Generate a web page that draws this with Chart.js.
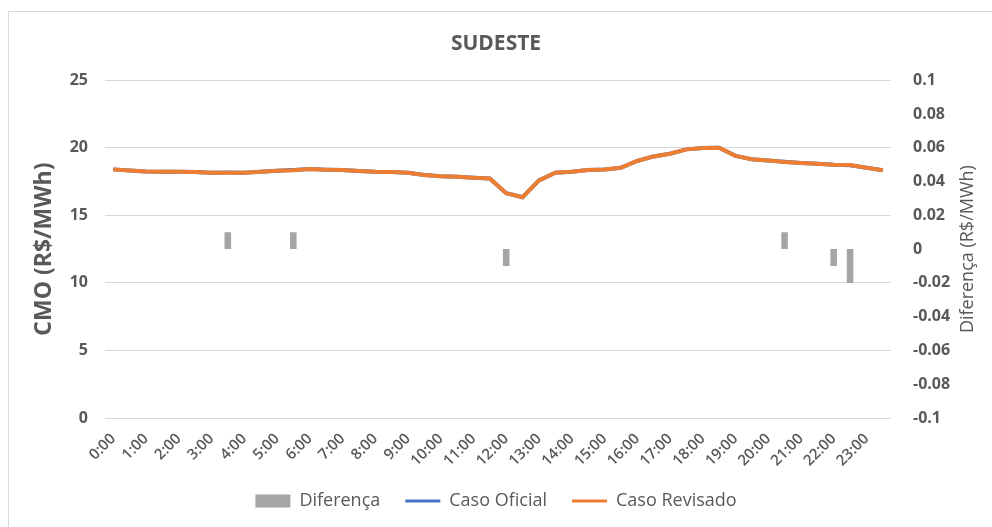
<!DOCTYPE html>
<html><head><meta charset="utf-8">
<script src="https://cdn.jsdelivr.net/npm/chart.js@4"></script>
<style>
html,body{margin:0;padding:0;background:#fff;overflow:hidden}
#wrap{position:relative;width:992px;height:527px}
#frame{position:absolute;left:8px;top:11px;width:1000px;height:600px;border:1px solid #d9d9d9;pointer-events:none}
canvas{position:absolute;left:0;top:0}
</style></head><body>
<div id="wrap"><canvas id="c" width="992" height="527"></canvas><div id="frame"></div></div>
<script>
const categories = ["0:00","0:30","1:00","1:30","2:00","2:30","3:00","3:30","4:00","4:30","5:00","5:30",
  "6:00","6:30","7:00","7:30","8:00","8:30","9:00","9:30","10:00","10:30","11:00","11:30",
  "12:00","12:30","13:00","13:30","14:00","14:30","15:00","15:30","16:00","16:30","17:00","17:30",
  "18:00","18:30","19:00","19:30","20:00","20:30","21:00","21:30","22:00","22:30","23:00","23:30"];

const casoRevisado = [18.40,18.32,18.25,18.22,18.22,18.20,18.15,18.15,18.15,18.23,18.30,18.34,
  18.42,18.38,18.36,18.28,18.22,18.20,18.15,17.98,17.90,17.85,17.78,17.73,
  16.64,16.34,17.58,18.15,18.22,18.35,18.40,18.52,19.02,19.36,19.56,19.88,
  19.98,20.00,19.40,19.15,19.05,18.95,18.88,18.82,18.75,18.73,18.52,18.33];

const casoOficial = [18.40,18.32,18.25,18.22,18.22,18.20,18.15,18.16,18.15,18.23,18.30,18.35,
  18.42,18.38,18.36,18.28,18.22,18.20,18.15,17.98,17.90,17.85,17.78,17.73,
  16.63,16.34,17.58,18.15,18.22,18.35,18.40,18.52,19.02,19.36,19.56,19.88,
  19.98,20.00,19.40,19.15,19.05,18.96,18.88,18.82,18.74,18.71,18.52,18.33];

const diferenca = [0,0,0,0,0,0,0,0.01,0,0,0,0.01,
  0,0,0,0,0,0,0,0,0,0,0,0,
  -0.01,0,0,0,0,0,0,0,0,0,0,0,
  0,0,0,0,0,0.01,0,0,-0.01,-0.02,0,0];

const rightAxisTitle = 'Diferença (R$/MWh)';

Chart.defaults.font.family = "'Open Sans', sans-serif";
Chart.defaults.color = '#595959';

// Right axis title reads bottom-to-top, like the reference
const rightTitlePlugin = {
  id: 'rightTitle',
  afterDraw(chart) {
    const ctx = chart.ctx, area = chart.chartArea;
    ctx.save();
    ctx.translate(968, (area.top + area.bottom) / 2);
    ctx.rotate(-Math.PI / 2);
    ctx.fillStyle = '#595959';
    ctx.font = "18px 'Open Sans', sans-serif";
    ctx.textAlign = 'center';
    ctx.textBaseline = 'middle';
    ctx.fillText(rightAxisTitle, 0, 0);
    ctx.restore();
  }
};

new Chart(document.getElementById('c'), {
  data: {
    labels: categories,
    datasets: [
      { type: 'bar', label: 'Diferença', data: diferenca, yAxisID: 'y1',
        backgroundColor: '#a5a5a5', borderWidth: 0, barPercentage: 0.4, categoryPercentage: 1.0,
        order: 3, pointStyle: 'rect' },
      { type: 'line', label: 'Caso Oficial', data: casoOficial, yAxisID: 'y',
        borderColor: '#4472c4', backgroundColor: '#4472c4', borderWidth: 4, pointRadius: 0,
        tension: 0, order: 2, pointStyle: 'line' },
      { type: 'line', label: 'Caso Revisado', data: casoRevisado, yAxisID: 'y',
        borderColor: '#ed7d31', backgroundColor: '#ed7d31', borderWidth: 4, pointRadius: 0,
        tension: 0, order: 1, pointStyle: 'line' }
    ]
  },
  plugins: [rightTitlePlugin],
  options: {
    responsive: false,
    animation: false,
    devicePixelRatio: 1,
    layout: { padding: { top: 0, left: 0, right: 0, bottom: 7 } },
    scales: {
      x: {
        type: 'category', offset: true,
        grid: { display: false }, border: { display: false },
        ticks: {
          autoSkip: false, maxRotation: 45, minRotation: 45, padding: 4,
          font: { size: 15, weight: '600' }, color: '#595959',
          callback: (v, i) => (i % 2 === 0 ? categories[i] : '')
        },
        afterFit: s => { s.height = 49; }
      },
      y: {
        position: 'left', min: 0, max: 25,
        ticks: { stepSize: 5, padding: 17, font: { size: 16, weight: 'bold' }, color: '#595959' },
        grid: { color: '#d9d9d9', drawTicks: false, lineWidth: 1 },
        border: { display: false },
        title: { display: true, text: 'CMO (R$/MWh)', color: '#595959',
          font: { size: 23, weight: 'bold' }, padding: { top: 31, bottom: 0 } },
        afterFit: s => { s.width = 105; }
      },
      y1: {
        position: 'right', min: -0.1, max: 0.1,
        ticks: { stepSize: 0.02, padding: 14, font: { size: 16, weight: 'bold' }, color: '#595959',
          callback: v => String(parseFloat(Number(v).toFixed(2)) + 0) },
        grid: { display: false }, border: { display: false },
        title: { display: false },
        afterFit: s => { s.width = 101; }
      }
    },
    plugins: {
      title: { display: true, text: 'SUDESTE', color: '#595959',
        font: { size: 21, weight: 'bold' }, padding: { top: 31, bottom: 24 } },
      legend: {
        position: 'bottom',
        labels: {
          usePointStyle: true, pointStyleWidth: 35, boxHeight: 13, padding: 25,
          font: { size: 18 }, color: '#595959',
          generateLabels: chart => {
            const items = Chart.defaults.plugins.legend.labels.generateLabels(chart);
            items.forEach(it => {
              it.pointStyle = it.datasetIndex === 0 ? 'rect' : 'line';
              if (it.datasetIndex > 0) it.lineWidth = 3;
            });
            return items.sort((a, b) => a.datasetIndex - b.datasetIndex);
          }
        }
      },
      tooltip: { enabled: false }
    }
  }
});
</script>
</body></html>
